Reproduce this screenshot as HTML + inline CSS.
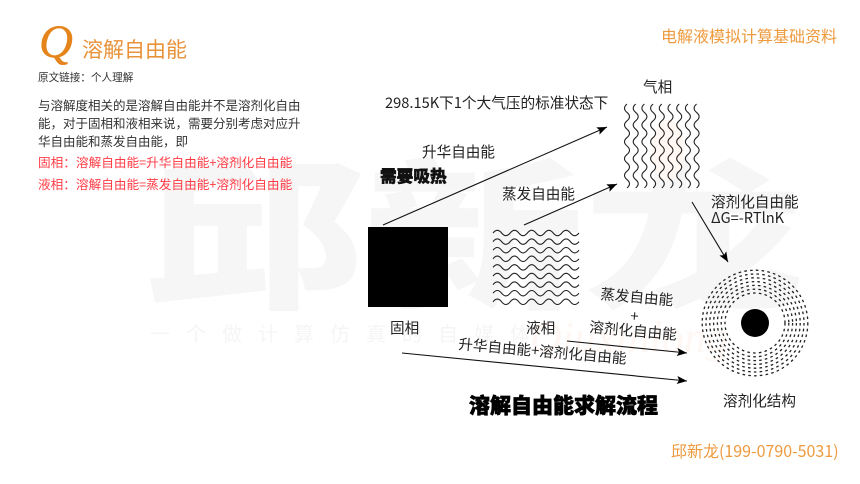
<!DOCTYPE html>
<html><head><meta charset="utf-8"><style>
html,body{margin:0;padding:0;background:#fff;width:860px;height:484px;overflow:hidden}
svg{display:block}
text{font-family:"Noto Sans CJK SC","Liberation Sans",sans-serif}
</style></head><body>
<svg width="860" height="484" viewBox="0 0 860 484" xmlns="http://www.w3.org/2000/svg">
<defs>
<marker id="a" markerWidth="12" markerHeight="10" refX="10" refY="4" orient="auto" markerUnits="userSpaceOnUse"><path d="M0 0L10 4L0 8L2 4Z" fill="#000"/></marker>
<path id="h" d="M493 0q4.3 -5.4 8.6 0t8.6 0t8.6 0t8.6 0t8.6 0t8.6 0t8.6 0t8.6 0t8.6 0t8.6 0" fill="none" stroke="#222" stroke-width="1.1"/>
<path id="v" d="M0 104q-5 4.2 0 8.4t0 8.4t0 8.4t0 8.4t0 8.4t0 8.4t0 8.4t0 8.4t0 8.4t0 8.4" fill="none" stroke="#222" stroke-width="1.1"/>
</defs>
<!-- watermark -->
<text x="144" y="0" font-size="220" font-weight="900" fill="#f6f6f6" transform="translate(0,296) scale(1,.74)">邱新龙</text>
<text x="150" y="341" font-size="20" fill="#f5f5f5" letter-spacing="16">一个做计算仿真的自媒体</text>
<text x="530" y="352" font-size="44" font-style="italic" fill="#fef7f4" style="font-family:'Liberation Serif',serif">Qiuxinlong</text>
<ellipse cx="668" cy="150" rx="16" ry="30" fill="#fff8f3"/>

<!-- header -->
<text x="39" y="57" font-size="47" font-style="italic" fill="#e5841a" stroke="#e5841a" stroke-width=".4" style="font-family:'Liberation Serif',serif">Q</text>
<text x="82" y="57" font-size="21" fill="#e8923a">溶解自由能</text>
<text x="38" y="81" font-size="10.6" fill="#333">原文链接：个人理解</text>
<g font-size="12.5" fill="#333">
<text x="38" y="110">与溶解度相关的是溶解自由能并不是溶剂化自由</text>
<text x="38" y="128">能，对于固相和液相来说，需要分别考虑对应升</text>
<text x="38" y="146">华自由能和蒸发自由能，即</text>
</g>
<g font-size="12.65" fill="#ff3b45">
<text x="38" y="167">固相：溶解自由能=升华自由能+溶剂化自由能</text>
<text x="38" y="189">液相：溶解自由能=蒸发自由能+溶剂化自由能</text>
</g>
<text x="661" y="42" font-size="16" fill="#ee9a3e">电解液模拟计算基础资料</text>
<text x="671" y="457" font-size="16" fill="#ee9a3e">邱新龙(199-0790-5031)</text>

<!-- diagram labels -->
<g fill="#222" font-size="14.6">
<text x="385" y="108" font-size="14.65">298.15K下1个大气压的标准状态下</text>
<text x="643" y="92">气相</text>
<text x="422" y="157">升华自由能</text>
<text x="502" y="199">蒸发自由能</text>
<text x="711" y="207">溶剂化自由能</text>
<text x="711" y="223">ΔG=-RTlnK</text>
<text x="390" y="333">固相</text>
<text x="526" y="333">液相</text>
<text x="723" y="406">溶剂化结构</text>
<text x="0" y="0" transform="translate(600,299) rotate(5)">蒸发自由能</text>
<text x="0" y="0" transform="translate(630,321) rotate(5)">+</text>
<text x="0" y="0" transform="translate(589,332) rotate(5)">溶剂化自由能</text>
<text x="0" y="0" transform="translate(458,349) rotate(5)">升华自由能+溶剂化自由能</text>
</g>
<text x="380" y="182" font-size="16.7" font-weight="900" fill="#111" stroke="#111" stroke-width=".5">需要吸热</text>
<text x="469" y="413" font-size="21" font-weight="900" fill="#000" stroke="#000" stroke-width=".7">溶解自由能求解流程</text>

<!-- solid -->
<rect x="368" y="227" width="80" height="80" fill="#000"/>
<!-- liquid -->
<use href="#h" y="233"/><use href="#h" y="241.6"/><use href="#h" y="250.2"/><use href="#h" y="258.8"/><use href="#h" y="267.4"/><use href="#h" y="276"/><use href="#h" y="284.6"/><use href="#h" y="293.2"/><use href="#h" y="301.8"/>
<!-- gas -->
<use href="#v" x="627"/><use href="#v" x="635.7"/><use href="#v" x="644.4"/><use href="#v" x="653.1"/><use href="#v" x="661.8"/><use href="#v" x="670.5"/><use href="#v" x="679.2"/><use href="#v" x="687.9"/><use href="#v" x="696.6"/>

<!-- arrows -->
<g stroke="#111" stroke-width="1.1" fill="none">
<line x1="383" y1="225" x2="607" y2="127" marker-end="url(#a)"/>
<line x1="524" y1="225" x2="617" y2="184" marker-end="url(#a)"/>
<line x1="692" y1="202" x2="728" y2="262" marker-end="url(#a)"/>
<line x1="567" y1="341" x2="687" y2="353" marker-end="url(#a)"/>
<line x1="402" y1="353" x2="687" y2="381" marker-end="url(#a)"/>
</g>

<!-- solvation -->
<g fill="none" stroke="#222" stroke-width="1.3">
<circle cx="755" cy="323" r="30" stroke-dasharray="2.6 3.2"/>
<circle cx="755" cy="323" r="33.8" stroke-dasharray="2.6 3.2"/>
<circle cx="755" cy="323" r="37.6" stroke-dasharray="2.6 3.2"/>
<circle cx="755" cy="323" r="41.4" stroke-dasharray="2.6 3.2"/>
<circle cx="755" cy="323" r="45.2" stroke-dasharray="2.6 3.2"/>
<circle cx="755" cy="323" r="49" stroke-dasharray="2.6 3.2"/>
<circle cx="755" cy="323" r="52.8" stroke-dasharray="2.6 3.2"/>
</g>
<circle cx="755" cy="323" r="14" fill="#000"/>
</svg>
</body></html>
